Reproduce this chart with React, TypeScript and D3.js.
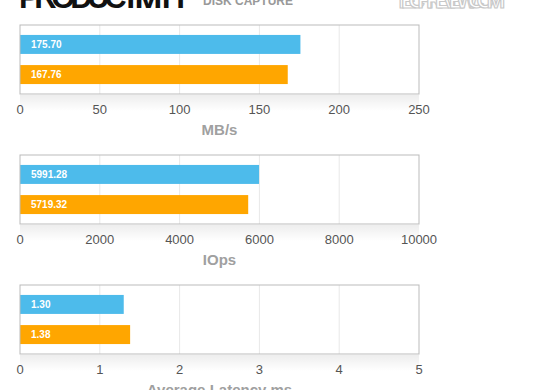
import { scaleBand, scaleLinear } from 'd3';

const series = ['read', 'write'];
const seriesColors = ['#4dbbeb', '#ffa600'];

const mbValues = [175.7, 167.76];
const mbTicks = [0, 50, 100, 150, 200, 250];

const iopsValues = [5991.28, 5719.32];
const iopsTicks = [0, 2000, 4000, 6000, 8000, 10000];

const latencyValues = [1.3, 1.38];
const latencyTicks = [0, 1, 2, 3, 4, 5];

const panels = [
  { title: 'MB/s', values: mbValues, ticks: mbTicks, labels: ['175.70', '167.76'] },
  { title: 'IOps', values: iopsValues, ticks: iopsTicks, labels: ['5991.28', '5719.32'] },
  { title: 'Average Latency ms', values: latencyValues, ticks: latencyTicks, labels: ['1.30', '1.38'] },
];

const width = 560;
const height = 390;
const left = 20;
const right = 419;
const boxH = 69;
const panelTops = [25, 155, 285];
const font = '"Liberation Sans", Arial, Helvetica, sans-serif';

function Panel({ top, panel }: { top: number; panel: (typeof panels)[number] }) {
  const ticks = panel.ticks;
  const x = scaleLinear().domain([ticks[0], ticks[ticks.length - 1]]).range([left, right]);
  const y = scaleBand<string>().domain(series).range([top, top + boxH]).paddingInner(0.37).paddingOuter(0.33);
  const bottom = top + boxH;

  return (
    <g>
      <rect x={left} y={bottom + 1} width={right - left} height={16} fill="url(#shadow)" />
      <rect x={left} y={top} width={right - left} height={boxH} fill="#fff" />
      {ticks.slice(1, -1).map((t) => (
        <line key={t} x1={x(t)} x2={x(t)} y1={top} y2={bottom} stroke="#e8e8e8" strokeWidth={1} />
      ))}
      {panel.values.map((v, i) => (
        <g key={series[i]}>
          <rect x={x(0)} y={y(series[i])} width={x(v) - x(0)} height={y.bandwidth()} fill={seriesColors[i]} />
          <text
            x={x(0) + 11}
            y={(y(series[i]) ?? 0) + y.bandwidth() / 2 + 3.5}
            fill="#fff"
            fontSize={10}
            fontWeight="bold"
            fontFamily={font}
          >
            {panel.labels[i]}
          </text>
        </g>
      ))}
      <rect x={left} y={top} width={right - left} height={boxH} fill="none" stroke="#bbbbbb" strokeWidth={1} />
      {ticks.map((t) => (
        <text key={t} x={x(t)} y={bottom + 20} textAnchor="middle" fontSize={13} fill="#555" fontFamily={font}>
          {t}
        </text>
      ))}
      <text
        x={(left + right) / 2}
        y={bottom + 41}
        textAnchor="middle"
        fontSize={15}
        fontWeight="bold"
        fill="#a0a0a0"
        fontFamily={font}
      >
        {panel.title}
      </text>
    </g>
  );
}

export default function App() {
  return (
    <svg
      width={width}
      height={height}
      style={{ position: 'absolute', left: 0, top: 0, background: '#fff' }}
    >
      <defs>
        <linearGradient id="shadow" x1="0" y1="0" x2="0" y2="1">
          <stop offset="0" stopColor="#000" stopOpacity={0.07} />
          <stop offset="1" stopColor="#000" stopOpacity={0} />
        </linearGradient>
      </defs>
      <text x={19} y={8} fontSize={31} fontWeight="bold" fill="#111" fontFamily={font} textLength={172}>
        PRODUCTIVITY
      </text>
      <text x={203} y={5} fontSize={12} fontWeight="bold" fill="#999" fontFamily={font}>
        DISK CAPTURE
      </text>
      <text
        x={450}
        y={8}
        textAnchor="middle"
        fontSize={22}
        fontWeight="bold"
        fill="#fff"
        stroke="#c8c8c8"
        strokeWidth={1.2}
        fontFamily={font}
        textLength={110}
      >
        TECHREVIEW.COM
      </text>
      {panels.map((p, i) => (
        <Panel key={p.title} top={panelTops[i]} panel={p} />
      ))}
    </svg>
  );
}
